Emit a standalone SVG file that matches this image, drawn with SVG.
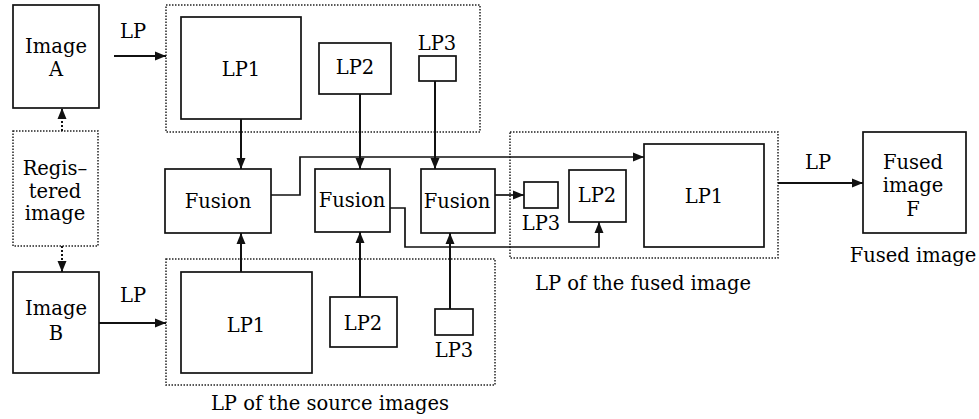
<svg xmlns="http://www.w3.org/2000/svg" width="979" height="419" viewBox="0 0 979 419">
<style>
.b{fill:none;stroke:#111;stroke-width:1.7}
.d{fill:none;stroke:#222;stroke-width:1.5;stroke-dasharray:1.5 1.5}
.c{fill:none;stroke:#111;stroke-width:2}
.cd{fill:none;stroke:#111;stroke-width:2;stroke-dasharray:2 2}
text{font-family:"DejaVu Serif","Liberation Serif",serif;font-size:19.5px;fill:#000;text-anchor:middle}
</style>
<defs>
<marker id="ah" markerWidth="12" markerHeight="10" refX="11" refY="5" orient="auto" markerUnits="userSpaceOnUse"><path d="M0,0.5 L11,5 L0,9.5 Z" fill="#111"/></marker>
</defs>
<rect width="979" height="419" fill="#fff"/>
<g id="group-source-top"><rect class="d" x="166" y="5" width="314" height="127"/></g>
<g id="group-source-bottom"><rect class="d" x="166" y="259" width="329" height="126"/><text x="330" y="410">LP of the source images</text></g>
<g id="group-fused"><rect class="d" x="510" y="132" width="268" height="126"/><text x="643" y="290">LP of the fused image</text></g>
<g id="imageA"><rect class="b" x="13" y="5" width="86" height="103"/><text x="56" y="53">Image</text><text x="56" y="76">A</text></g>
<g id="registered"><rect class="d" x="13" y="131" width="85" height="115"/><text x="55" y="175">Regis–</text><text x="55" y="198">tered</text><text x="55" y="220">image</text></g>
<g id="imageB"><rect class="b" x="13" y="272" width="86" height="101"/><text x="56" y="315">Image</text><text x="56" y="340">B</text></g>
<g id="lp1-top"><rect class="b" x="181" y="17" width="120" height="102"/><text x="241" y="76">LP1</text></g>
<g id="lp2-top"><rect class="b" x="319" y="43" width="72" height="51"/><text x="355" y="74">LP2</text></g>
<g id="lp3-top"><rect class="b" x="419" y="56" width="37" height="25"/><text x="437" y="50">LP3</text></g>
<g id="fusion1"><rect class="b" x="165" y="169" width="106" height="64"/><text x="218" y="208">Fusion</text></g>
<g id="fusion2"><rect class="b" x="315" y="169" width="75" height="63"/><text x="352" y="207">Fusion</text></g>
<g id="fusion3"><rect class="b" x="421" y="169" width="74" height="64"/><text x="457" y="208">Fusion</text></g>
<g id="lp1-bottom"><rect class="b" x="181" y="272" width="131" height="101"/><text x="246" y="332">LP1</text></g>
<g id="lp2-bottom"><rect class="b" x="330" y="297" width="67" height="50"/><text x="363" y="330">LP2</text></g>
<g id="lp3-bottom"><rect class="b" x="435" y="309" width="38" height="26"/><text x="454" y="357">LP3</text></g>
<g id="lp3-fused"><rect class="b" x="524" y="182" width="34" height="26"/><text x="541" y="230">LP3</text></g>
<g id="lp2-fused"><rect class="b" x="569" y="170" width="57" height="52"/><text x="597" y="202">LP2</text></g>
<g id="lp1-fused"><rect class="b" x="644" y="144" width="120" height="103"/><text x="704" y="203">LP1</text></g>
<g id="fusedF"><rect class="b" x="863" y="132" width="103" height="101"/><text x="913" y="169">Fused</text><text x="913" y="192">image</text><text x="913" y="216">F</text><text x="913" y="262">Fused image</text></g>
<g id="connectors">
<path class="cd" d="M62,131 V108" marker-end="url(#ah)"/>
<path class="cd" d="M62,246 V272" marker-end="url(#ah)"/>
<path class="c" d="M114,56 H166" marker-end="url(#ah)"/>
<text x="133" y="38">LP</text>
<path class="c" d="M99,323 H166" marker-end="url(#ah)"/>
<text x="133" y="302">LP</text>
<path class="c" d="M241,119 V169" marker-end="url(#ah)"/>
<path class="c" d="M360,94 V169" marker-end="url(#ah)"/>
<path class="c" d="M435,81 V169" marker-end="url(#ah)"/>
<path class="c" d="M241,272 V233" marker-end="url(#ah)"/>
<path class="c" d="M360,297 V232" marker-end="url(#ah)"/>
<path class="c" d="M450,309 V233" marker-end="url(#ah)"/>
<path class="b" d="M271,195 H300 V157 H644" marker-end="url(#ah)"/>
<path class="b" d="M390,208 H405 V247 H599 V222" marker-end="url(#ah)"/>
<path class="b" d="M495,195 H524" marker-end="url(#ah)"/>
<path class="c" d="M778,183 H863" marker-end="url(#ah)"/>
<text x="818" y="169">LP</text>
</g>
</svg>
